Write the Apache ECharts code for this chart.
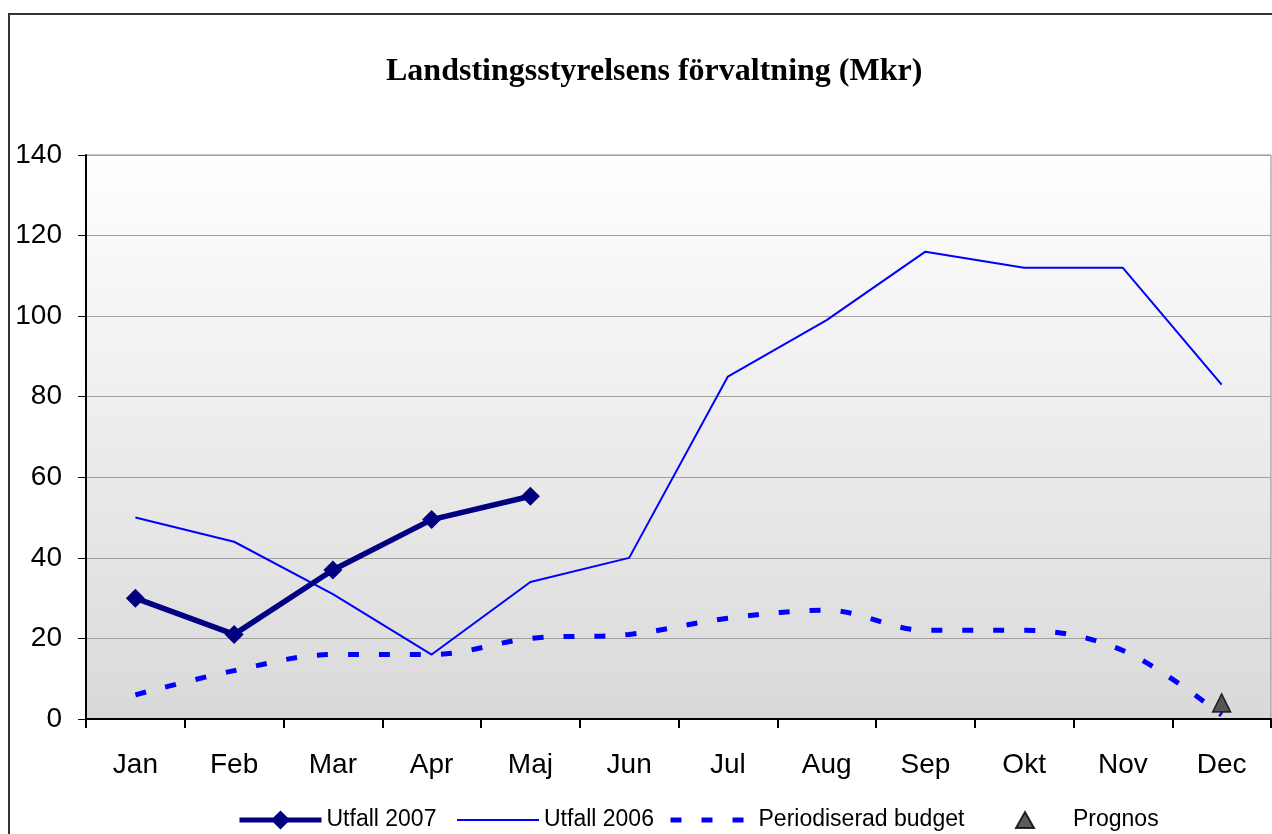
<!DOCTYPE html>
<html>
<head>
<meta charset="utf-8">
<script src="https://cdn.jsdelivr.net/npm/echarts@6/dist/echarts.min.js"></script>
<style>
  body { margin: 0; background: #fff; }
  #main { width: 1272px; height: 834px; }
</style>
</head>
<body>
<div id="main"></div>
<script>
// month names on the x axis
const months = ['Jan', 'Feb', 'Mar', 'Apr', 'Maj', 'Jun', 'Jul', 'Aug', 'Sep', 'Okt', 'Nov', 'Dec']
// values (Mkr)
const utfall2007 = [30, 21, 37, 49.5, 55.3, null, null, null, null, null, null, null]
const utfall2006 = [50, 44, 31, 16, 34, 40, 85, 99, 116, 112, 112, 83]
const budget = [6, 12, 16, 16, 20, 21, 25, 27, 22, 22, 17, 1]
const prognos = [null, null, null, null, null, null, null, null, null, null, null, 4]

const font = 'Liberation Sans, Arial, sans-serif'
const legendText = { fontFamily: font, fontSize: 23, lineHeight: 26, color: '#000' }
// hides the dot ECharts puts on a plain line in the legend
const noDot = { color: 'rgba(0,0,0,0)', borderWidth: 0, opacity: 0 }
let myChart = echarts.init(document.getElementById('main'))

let option = {
  animation: false,
  title: {
    text: 'Landstingsstyrelsens förvaltning (Mkr)',
    left: 381,
    top: 49,
    textStyle: {
      fontFamily: 'Liberation Serif, Times New Roman, serif',
      fontWeight: 'bold',
      fontSize: 32,
      lineHeight: 36,
      color: '#000'
    }
  },
  graphic: [
    {
      type: 'rect',
      shape: { x: 9, y: 14, width: 1300, height: 900 },
      style: { fill: 'none', stroke: '#333', lineWidth: 2 },
      silent: true
    }
  ],
  legend: [
    {
      data: ['Utfall 2007'], left: 232, top: 802,
      itemWidth: 82, itemHeight: 24,
      lineStyle: { width: 5 },
      textStyle: legendText
    },
    {
      data: ['Utfall 2006'], left: 451, top: 802,
      itemWidth: 82, itemHeight: 24,
      lineStyle: { width: 2 },
      itemStyle: noDot,
      textStyle: legendText
    },
    {
      data: ['Periodiserad budget'], left: 663, top: 802,
      itemWidth: 83, itemHeight: 24,
      lineStyle: { width: 5, type: [11, 20] },
      itemStyle: noDot,
      textStyle: legendText
    },
    {
      data: ['Prognos'], left: 1010, top: 802,
      itemWidth: 18, itemHeight: 16,
      textStyle: Object.assign({}, legendText, { padding: [0, 0, 0, 34] })
    }
  ],
  grid: {
    left: 86,
    top: 155,
    right: 1,
    bottom: 115,
    show: true,
    borderColor: '#888',
    borderWidth: 1,
    backgroundColor: new echarts.graphic.LinearGradient(0, 0, 0, 1, [
      { offset: 0, color: '#ffffff' },
      { offset: 1, color: '#d9d9d9' }
    ])
  },
  xAxis: {
    type: 'category',
    data: months,
    boundaryGap: true,
    axisLine: { lineStyle: { color: '#000', width: 2 } },
    axisTick: { show: true, length: 9, lineStyle: { color: '#000', width: 2 } },
    axisLabel: { fontFamily: font, fontSize: 28, color: '#000', margin: 32 },
    splitLine: { show: false }
  },
  yAxis: {
    type: 'value',
    min: 0,
    max: 140,
    interval: 20,
    axisLine: { show: true, lineStyle: { color: '#000', width: 2 } },
    axisTick: { show: true, length: 8, lineStyle: { color: '#000', width: 1 } },
    axisLabel: { fontFamily: font, fontSize: 28, color: '#000', margin: 24 },
    splitLine: { show: true, lineStyle: { color: '#a0a0a0', width: 1 } }
  },
  series: [
    {
      name: 'Periodiserad budget',
      type: 'line',
      data: budget,
      smooth: 0.35,
      symbol: 'none',
      lineStyle: { color: '#0000ff', width: 5, type: [11, 20], cap: 'butt' },
      itemStyle: { color: '#0000ff' }
    },
    {
      name: 'Utfall 2006',
      type: 'line',
      data: utfall2006,
      symbol: 'none',
      lineStyle: { color: '#0000ff', width: 2 },
      itemStyle: { color: '#0000ff' }
    },
    {
      name: 'Utfall 2007',
      type: 'line',
      data: utfall2007,
      symbol: 'diamond',
      symbolSize: 19,
      lineStyle: { color: '#000080', width: 5.5 },
      itemStyle: { color: '#000080' }
    },
    {
      name: 'Prognos',
      type: 'scatter',
      data: prognos,
      symbol: 'triangle',
      symbolSize: 18,
      itemStyle: { color: '#333333', borderColor: '#000', borderWidth: 1.5 }
    }
  ]
}
option && myChart.setOption(option)
</script>
</body>
</html>
